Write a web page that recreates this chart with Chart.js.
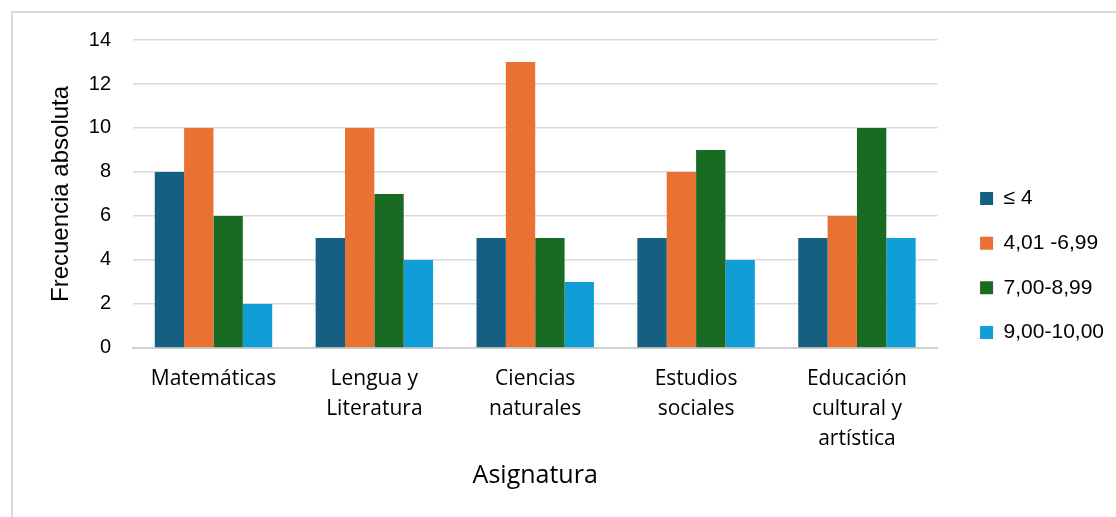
<!DOCTYPE html>
<html>
<head>
<meta charset="utf-8">
<script src="https://cdn.jsdelivr.net/npm/chart.js@4.4.0/dist/chart.umd.min.js"></script>
<style>
  html, body { margin: 0; padding: 0; background: #fff; }
  #frame { position: absolute; left: 11px; top: 11px; width: 1105px; height: 506px;
           border-top: 2px solid #d9d9d9; border-left: 2px solid #d9d9d9; box-sizing: border-box; }
  #wrap { position: absolute; left: 0; top: 0; width: 1116px; height: 517px; }
</style>
</head>
<body>
<div id="frame"></div>
<div id="wrap"><canvas id="gradesChart"></canvas></div>
<script>
const subjects = [
    ["Matemáticas"],
    ["Lengua y", "Literatura"],
    ["Ciencias", "naturales"],
    ["Estudios", "sociales"],
    ["Educación", "cultural y", "artística"]
];
const rangeLabels = ["≤ 4", "4,01 -6,99", "7,00-8,99", "9,00-10,00"];
const lowScores = [8, 5, 5, 5, 5];
const midScores = [10, 10, 13, 8, 6];
const goodScores = [6, 7, 5, 9, 10];
const topScores = [2, 4, 3, 4, 5];
const barColors = ["#156082", "#E97132", "#196B24", "#0F9ED5"];

let ctx = document.getElementById("gradesChart").getContext("2d");

new Chart(ctx, {
    type: "bar",
    data: {
        labels: subjects,
        datasets: [lowScores, midScores, goodScores, topScores].map(function (values, i) {
            return {
                label: rangeLabels[i],
                data: values,
                backgroundColor: barColors[i],
                categoryPercentage: 0.73,
                barPercentage: 1.0
            };
        })
    },
    options: {
        responsive: true,
        maintainAspectRatio: false,
        animation: false,
        layout: { padding: { left: 47, top: 40, right: 2, bottom: 26 } },
        plugins: {
            legend: {
                position: "right",
                labels: {
                    boxWidth: 13,
                    boxHeight: 13,
                    padding: 23.7,
                    color: "#000",
                    font: { family: "Liberation Sans", size: 21 }
                }
            },
            tooltip: { enabled: false }
        },
        scales: {
            x: {
                grid: { display: false },
                border: { color: "#d0d0d0", width: 2 },
                ticks: {
                    color: "#000",
                    font: { family: "Open Sans", size: 21, lineHeight: 1.43 },
                    maxRotation: 0,
                    padding: 8
                },
                title: {
                    display: true,
                    text: "Asignatura",
                    color: "#000",
                    font: { family: "Open Sans", size: 25 },
                    padding: { top: -1, bottom: 0 }
                }
            },
            y: {
                min: 0,
                max: 14,
                ticks: {
                    stepSize: 2,
                    color: "#000",
                    font: { family: "Liberation Sans", size: 20 },
                    padding: 22
                },
                grid: { color: "#d9d9d9", lineWidth: 1.5, drawTicks: false },
                border: { display: false },
                title: {
                    display: true,
                    text: "Frecuencia absoluta",
                    color: "#000",
                    font: { family: "Liberation Sans", size: 24 },
                    padding: { top: 0, bottom: -9 }
                }
            },
            spacer: {
                position: "right",
                grid: { display: false },
                border: { display: false },
                ticks: { display: false },
                afterFit: function (scale) { scale.width = 19; }
            }
        }
    }
});
</script>
</body>
</html>
